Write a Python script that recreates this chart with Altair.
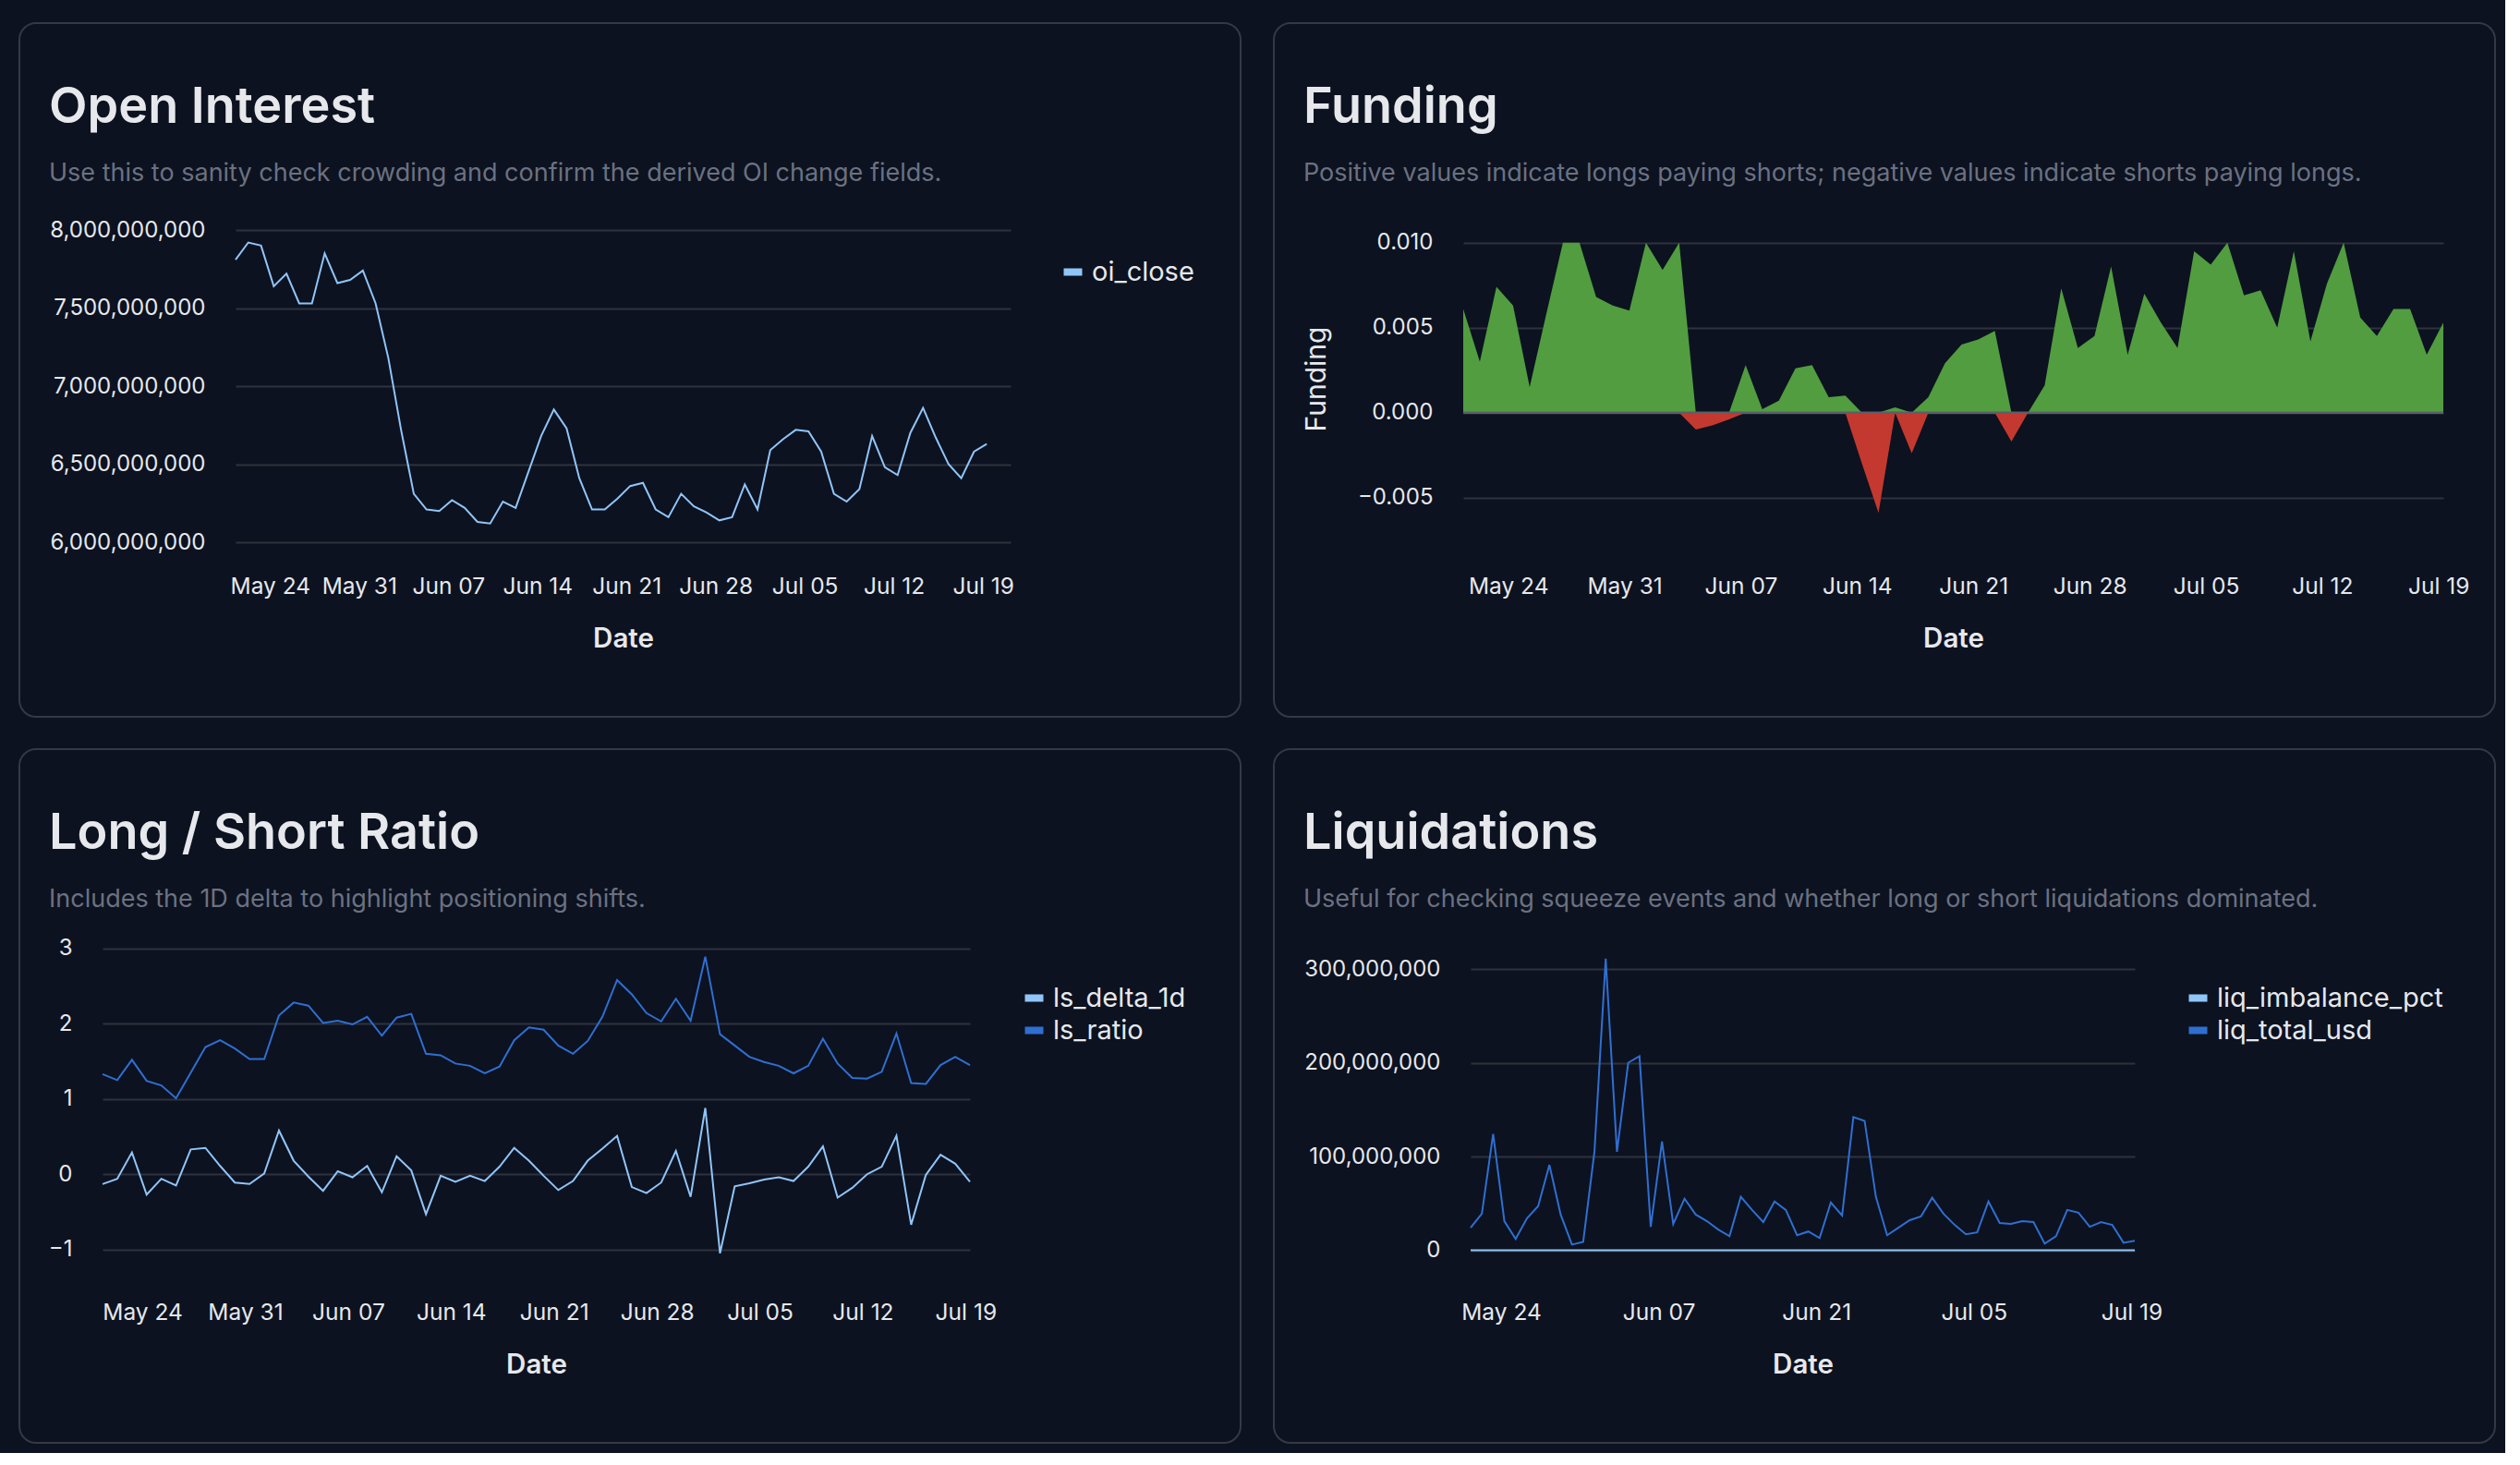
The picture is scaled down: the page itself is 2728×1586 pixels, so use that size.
import altair as alt
import pandas as pd

# ---------------- data ----------------
START = "2026-05-21 07:00"
N_DAYS = 60
DATES = [d.strftime("%Y-%m-%dT%H:%M:%S") for d in pd.date_range(START, periods=N_DAYS, freq="D")]

OI_CLOSE_BN = [7.81, 7.92, 7.90, 7.64, 7.72, 7.53, 7.53, 7.85, 7.66, 7.68,
               7.74, 7.53, 7.18, 6.72, 6.31, 6.21, 6.20, 6.27, 6.22, 6.13,
               6.12, 6.26, 6.22, 6.45, 6.68, 6.85, 6.73, 6.41, 6.21, 6.21,
               6.28, 6.36, 6.38, 6.21, 6.16, 6.31, 6.23, 6.19, 6.14, 6.16,
               6.37, 6.21, 6.59, 6.66, 6.72, 6.71, 6.58, 6.31, 6.26, 6.34,
               6.68, 6.48, 6.43, 6.70, 6.86, 6.67, 6.50, 6.41, 6.58, 6.63]

FUNDING = [0.0061, 0.0030, 0.0074, 0.0063, 0.0015, 0.0058, 0.0100, 0.0100, 0.0068, 0.0063,
           0.0060, 0.0100, 0.0084, 0.0100, -0.0010, -0.00076, -0.0004, 0.0028, 0.0002, 0.0007,
           0.0026, 0.0028, 0.0009, 0.0010, -0.0030, -0.0059, 0.0003, -0.0024, 0.0009, 0.0029,
           0.0040, 0.0043, 0.0048, -0.0017, 0.0000, 0.0016, 0.0073, 0.0038, 0.0045, 0.0086,
           0.0034, 0.0070, 0.0053, 0.0038, 0.0095, 0.0087, 0.0100, 0.0069, 0.0072, 0.0050,
           0.0095, 0.0042, 0.0076, 0.0100, 0.0056, 0.0045, 0.0061, 0.0061, 0.0034, 0.0053]

LS_RATIO = [1.33, 1.25, 1.52, 1.24, 1.18, 1.01, 1.35, 1.69, 1.78, 1.67,
            1.53, 1.53, 2.11, 2.28, 2.24, 2.01, 2.04, 1.99, 2.09, 1.84,
            2.08, 2.13, 1.60, 1.58, 1.47, 1.44, 1.34, 1.43, 1.78, 1.95,
            1.92, 1.71, 1.60, 1.77, 2.09, 2.58, 2.39, 2.14, 2.03, 2.33,
            2.04, 2.89, 1.86, 1.71, 1.56, 1.49, 1.44, 1.34, 1.44, 1.80,
            1.47, 1.28, 1.27, 1.36, 1.87, 1.21, 1.20, 1.45, 1.56, 1.45]

LS_DELTA_1D = [-0.13, -0.06, 0.29, -0.27, -0.06, -0.15, 0.33, 0.35, 0.11, -0.11,
               -0.13, 0.01, 0.58, 0.18, -0.03, -0.22, 0.04, -0.04, 0.11, -0.24,
               0.24, 0.05, -0.53, -0.02, -0.10, -0.02, -0.09, 0.10, 0.35, 0.18,
               -0.02, -0.21, -0.09, 0.18, 0.34, 0.51, -0.17, -0.25, -0.11, 0.31,
               -0.30, 0.88, -1.05, -0.16, -0.12, -0.07, -0.04, -0.09, 0.10, 0.37,
               -0.31, -0.18, 0.00, 0.10, 0.51, -0.67, -0.01, 0.26, 0.14, -0.10]

LIQ_TOTAL_USD_M = [24, 39, 124, 31, 12, 34, 47, 91, 38, 6,
                   9, 105, 311, 105, 200, 207, 25, 116, 28, 55,
                   38, 31, 22, 15, 57, 43, 30, 52, 43, 16,
                   20, 13, 51, 37, 142, 138, 57, 16, 24, 32,
                   36, 56, 39, 27, 17, 19, 52, 29, 28, 31,
                   30, 7, 15, 43, 40, 25, 30, 27, 8, 10]

LIQ_IMBALANCE_PCT = [0, 0, 0, 0, 0, 0, 0, 0, 0, 0, 0, 0, 0, 0, 0, 0, 0, 0, 0, 0,
                     0, 0, 0, 0, 0, 0, 0, 0, 0, 0, 0, 0, 0, 0, 0, 0, 0, 0, 0, 0,
                     0, 0, 0, 0, 0, 0, 0, 0, 0, 0, 0, 0, 0, 0, 0, 0, 0, 0, 0, 0]

WEEKLY_TICKS = ["2026-05-24", "2026-05-31", "2026-06-07", "2026-06-14", "2026-06-21",
                "2026-06-28", "2026-07-05", "2026-07-12", "2026-07-19"]
BIWEEKLY_TICKS = ["2026-05-24", "2026-06-07", "2026-06-21", "2026-07-05", "2026-07-19"]

OI_TICKS = [6.0e9, 6.5e9, 7.0e9, 7.5e9, 8.0e9]
FUNDING_TICKS = [-0.005, 0.0, 0.005, 0.010]
LS_TICKS = [-1, 0, 1, 2, 3]
LIQ_TICKS = [0, 100e6, 200e6, 300e6]

TITLES = ["Open Interest", "Funding", "Long / Short Ratio", "Liquidations"]
SUBTITLES = [
    "Use this to sanity check crowding and confirm the derived OI change fields.",
    "Positive values indicate longs paying shorts; negative values indicate shorts paying longs.",
    "Includes the 1D delta to highlight positioning shifts.",
    "Useful for checking squeeze events and whether long or short liquidations dominated.",
]

# ---------------- style ----------------
BG = "#0c1220"
CARD_STROKE = "#343945"
GRID = "#2e323c"
TEXT = "#e6e8ec"
SUB = "#6b7180"
LIGHT = "#90c5f8"
DARK = "#2f6fd1"
GREEN = "#519d40"
RED = "#c3392f"
ZERO = "#5a5f6b"
FONT = "Inter"

CARD_W, CARD_H = 1322, 751
X_AXIS_Y = 610          # label centre line, from card top
LEGEND_Y = 255


def dt(s, hours=0, minutes=0):
    y, m, d = (int(p) for p in s.split("-"))
    return alt.DateTime(year=y, month=m, date=d, hours=hours, minutes=minutes)


def x_axis(ticks):
    return alt.Axis(values=[dt(t) for t in ticks], format="%b %d", labelFlush=False,
                    orient="bottom", offset=-(CARD_H - X_AXIS_Y),
                    ticks=False, tickSize=0, domain=False, grid=False, labelAngle=0,
                    labelFontSize=24.5, labelColor=TEXT, labelFont=FONT,
                    labelBaseline="middle", labelPadding=0,
                    title="Date", titleFont=FONT, titleFontSize=29.5, titleFontWeight=600,
                    titleColor=TEXT, titleBaseline="middle", titleY=56)


def y_axis(ticks, fmt, left, **extra):
    return alt.Axis(values=ticks, format=fmt, orient="left", offset=-left,
                    ticks=False, tickSize=0, domain=False,
                    grid=True, gridColor=GRID, gridWidth=2,
                    labelFontSize=24, labelColor=TEXT, labelFont=FONT, labelPadding=33,
                    **extra)


def legend(lx):
    return alt.Legend(orient="none", legendX=lx, legendY=LEGEND_Y, title=None,
                      symbolType="stroke", symbolSize=400, symbolStrokeWidth=8,
                      labelFontSize=29, labelColor=TEXT, labelFont=FONT, labelOffset=6,
                      labelLimit=600, rowPadding=2, padding=0)


def header(title, subtitle):
    t = alt.Chart(pd.DataFrame({"t": [title]})).mark_text(
        align="left", baseline="alphabetic", font=FONT, fontSize=54, fontWeight=600,
        color=TEXT).encode(text="t:N", x=alt.value(32), y=alt.value(108))
    s = alt.Chart(pd.DataFrame({"t": [subtitle]})).mark_text(
        align="left", baseline="alphabetic", font=FONT, fontSize=27,
        color=SUB).encode(text="t:N", x=alt.value(32), y=alt.value(171))
    return t, s


# ---------------- Open Interest ----------------
# plot region inside the card: x [234, 1073], y [224, 562]
oi_df = pd.DataFrame({"date": DATES, "value": [v * 1e9 for v in OI_CLOSE_BN],
                      "series": ["oi_close"] * N_DAYS})
oi_line = alt.Chart(oi_df).mark_line(strokeWidth=2).encode(
    x=alt.X("date:T", scale=alt.Scale(domain=[dt("2026-05-21", 7), dt("2026-07-21", 4)],
                                      range=[234, 1073]),
            axis=x_axis(WEEKLY_TICKS)),
    y=alt.Y("value:Q", scale=alt.Scale(domain=[6.0e9, 8.0e9], nice=False, range=[562, 224]),
            axis=y_axis(OI_TICKS, ",d", 234, title=None)),
    color=alt.Color("series:N", scale=alt.Scale(domain=["oi_close"], range=[LIGHT]),
                    legend=legend(1126)),
)
oi = alt.layer(*header(TITLES[0], SUBTITLES[0]), oi_line).properties(
    width=CARD_W, height=CARD_H)

# ---------------- Funding ----------------
# plot region: x [205, 1266], y [237.7, 532]
fu_df = pd.DataFrame({"date": DATES, "funding": FUNDING})
fx = alt.X("date:T", scale=alt.Scale(range=[205, 1266]), axis=x_axis(WEEKLY_TICKS))
fy_scale = alt.Scale(domain=[-0.006, 0.010], nice=False, range=[532, 237.7])
fu_base = alt.Chart(fu_df).transform_calculate(
    pos="max(datum.funding, 0)", neg="min(datum.funding, 0)")
fu_pos = fu_base.mark_area(color=GREEN, opacity=1).encode(
    x=fx,
    y=alt.Y("pos:Q", scale=fy_scale,
            axis=y_axis(FUNDING_TICKS, ".3f", 205, title="Funding", titleFont=FONT,
                        titleFontSize=30, titleFontWeight="normal", titleColor=TEXT,
                        titleAngle=270, titleBaseline="middle", titleAlign="center",
                        titleX=-159, titleY=385)),
    y2=alt.datum(0),
)
fu_neg = fu_base.mark_area(color=RED, opacity=1).encode(
    x=fx, y=alt.Y("neg:Q", scale=fy_scale), y2=alt.datum(0))
fu_zero = alt.Chart(pd.DataFrame({"k": [0]})).mark_rule(color=ZERO, strokeWidth=2.5).encode(
    x=alt.value(205), x2=alt.value(1266), y=alt.datum(0))
fu = alt.layer(*header(TITLES[1], SUBTITLES[1]), fu_pos, fu_neg, fu_zero).properties(
    width=CARD_W, height=CARD_H)

# ---------------- Long / Short ----------------
# plot region: x [90, 1029], y [215.7, 582.5]
ls_df = pd.DataFrame({
    "date": DATES * 2,
    "value": LS_DELTA_1D + LS_RATIO,
    "series": ["ls_delta_1d"] * N_DAYS + ["ls_ratio"] * N_DAYS,
})
ls_line = alt.Chart(ls_df).mark_line(strokeWidth=2).encode(
    x=alt.X("date:T", scale=alt.Scale(range=[90, 1029]), axis=x_axis(WEEKLY_TICKS)),
    y=alt.Y("value:Q", scale=alt.Scale(domain=[-1.5, 3], nice=False, range=[582.5, 215.7]),
            axis=y_axis(LS_TICKS, "d", 90, title=None)),
    color=alt.Color("series:N", scale=alt.Scale(domain=["ls_delta_1d", "ls_ratio"],
                                                range=[LIGHT, DARK]),
                    legend=legend(1084)),
)
ls = alt.layer(*header(TITLES[2], SUBTITLES[2]), ls_line).properties(
    width=CARD_W, height=CARD_H)

# ---------------- Liquidations ----------------
# plot region: x [213, 932], y [187.25, 542.5]
lq_df = pd.DataFrame({
    "date": DATES * 2,
    "value": LIQ_IMBALANCE_PCT + [v * 1e6 for v in LIQ_TOTAL_USD_M],
    "series": ["liq_imbalance_pct"] * N_DAYS + ["liq_total_usd"] * N_DAYS,
})
lq_line = alt.Chart(lq_df).mark_line(strokeWidth=2).encode(
    x=alt.X("date:T", scale=alt.Scale(range=[213, 932]), axis=x_axis(BIWEEKLY_TICKS)),
    y=alt.Y("value:Q", scale=alt.Scale(domain=[0, 350e6], nice=False, range=[542.5, 187.25]),
            axis=y_axis(LIQ_TICKS, ",d", 213, title=None)),
    color=alt.Color("series:N", scale=alt.Scale(domain=["liq_imbalance_pct", "liq_total_usd"],
                                                range=[LIGHT, DARK]),
                    legend=legend(986)),
)
lq = alt.layer(*header(TITLES[3], SUBTITLES[3]), lq_line).properties(
    width=CARD_W, height=CARD_H)

chart = alt.concat(
    oi, fu, ls, lq,
    columns=2,
    spacing={"row": 33, "column": 34},
).resolve_scale(
    color="independent", x="independent", y="independent"
).resolve_legend(
    color="independent"
).configure(
    background=BG,
    padding={"left": 20, "top": 24, "right": 10, "bottom": 10},
).configure_view(stroke=CARD_STROKE, strokeWidth=2, cornerRadius=18)

chart.save("out.html", embed_options={"renderer": "svg", "actions": False})
